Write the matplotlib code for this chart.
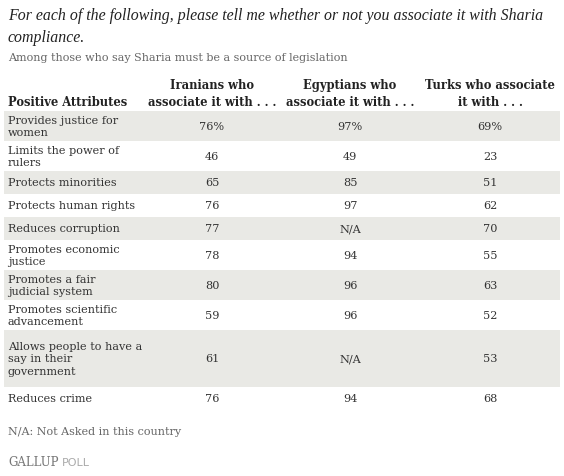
import matplotlib.pyplot as plt
from matplotlib.patches import Rectangle

# Table data
attributes = [
    "Provides justice for\nwomen",
    "Limits the power of\nrulers",
    "Protects minorities",
    "Protects human rights",
    "Reduces corruption",
    "Promotes economic\njustice",
    "Promotes a fair\njudicial system",
    "Promotes scientific\nadvancement",
    "Allows people to have a\nsay in their\ngovernment",
    "Reduces crime",
]
iranians = [76, 46, 65, 76, 77, 78, 80, 59, 61, 76]
egyptians = [97, 49, 85, 97, None, 94, 96, 96, None, 94]
turks = [69, 23, 51, 62, 70, 55, 63, 52, 53, 68]
headers = ["Iranians who\nassociate it with . . .",
           "Egyptians who\nassociate it with . . .",
           "Turks who associate\nit with . . ."]

title = ("For each of the following, please tell me whether or not you associate it with Sharia\n"
         "compliance.")
subtitle = "Among those who say Sharia must be a source of legislation"
footnote = "N/A: Not Asked in this country"

serif = "DejaVu Serif"
stripe = "#e9e9e5"
col_x = [212, 350, 490]
row_h = {1: 23, 2: 30, 3: 57}

fig = plt.figure(figsize=(5.64, 4.77), dpi=100)
ax = fig.add_axes([0, 0, 1, 1])
ax.set_xlim(0, 564)
ax.set_ylim(477, 0)
ax.axis("off")

ax.text(8, 27, title, family="Liberation Serif", style="italic", fontsize=11.4, color="#222222",
        va="center", linespacing=1.55)
ax.text(8, 58, subtitle, family=serif, fontsize=8, color="#666666", va="center")

# headers
ax.text(8, 102, "Positive Attributes", family=serif, fontweight="bold", fontsize=8.3,
        color="#222222", va="center")
for x, h in zip(col_x, headers):
    ax.text(x, 94, h, family=serif, fontweight="bold", fontsize=8.3, color="#222222",
            ha="center", va="center", linespacing=1.35)

# rows
y = 112
for i, label in enumerate(attributes):
    h = row_h[label.count("\n") + 1]
    if i % 2 == 0:
        ax.add_patch(Rectangle((4, y), 556, h, color=stripe, lw=0))
    yc = y + h / 2
    ax.text(8, yc, label, family=serif, fontsize=8.1, color="#333333", va="center",
            linespacing=1.35)
    vals = [iranians[i], egyptians[i], turks[i]]
    for x, v in zip(col_x, vals):
        s = "N/A" if v is None else (f"{v}%" if i == 0 else str(v))
        ax.text(x, yc, s, family=serif, fontsize=8.1, color="#333333", ha="center", va="center")
    y += h

ax.text(8, 432, footnote, family=serif, fontsize=8, color="#666666", va="center")
ax.text(8, 463, "GALLUP", family=serif, fontsize=8.5, color="#777777", va="center")
ax.text(62, 463, "POLL", family="DejaVu Sans", fontsize=8, color="#aaaaaa", va="center")

fig.savefig("out.png", dpi=100)
